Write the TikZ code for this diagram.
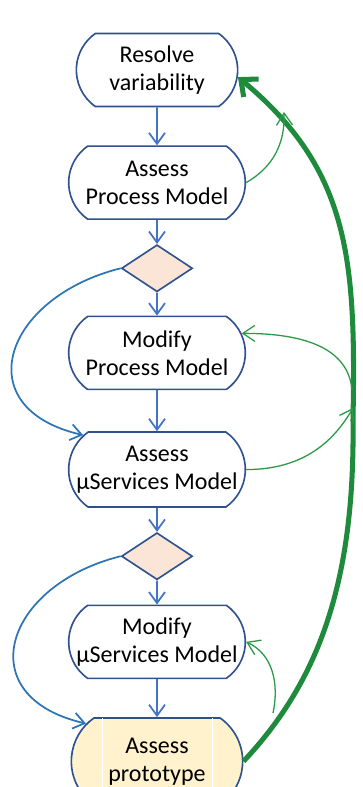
\documentclass[tikz,border=0pt]{standalone}
\usepackage{fontspec}
\setmainfont{Carlito}
\usepackage{tikz}
\usetikzlibrary{arrows.meta,positioning,shapes.misc,shapes.geometric}
\definecolor{Edge}{HTML}{2F528F}
\definecolor{Flow}{HTML}{4472C4}
\definecolor{Skip}{HTML}{2E75B6}
\definecolor{Leaf}{HTML}{2A9A48}
\definecolor{Forest}{HTML}{1E8A3C}
\definecolor{Peach}{HTML}{FBE5D6}
\definecolor{Cream}{HTML}{FFF2CC}

\begin{document}
\begin{tikzpicture}[
    act/.style={draw=Edge,line width=1.4pt,fill=white,rounded rectangle,rounded rectangle arc length=110,minimum width=55mm,minimum height=21.9mm,align=center,inner sep=1mm,font=\fontsize{20.5}{24}\selectfont},
    dec/.style={draw=Edge,line width=1.4pt,fill=Peach,diamond,minimum width=21.3mm,minimum height=14.1mm,inner sep=0pt},
    a/.style={-{Straight Barb[length=3.3mm,width=4.8mm]},line width=1.5pt,draw=Flow},
    sk/.style={-{Straight Barb[length=3.3mm,width=4.8mm]},line width=1.5pt,draw=Skip},
    fb/.style={-{Straight Barb[length=3.6mm,width=4.8mm]},line width=1.1pt,draw=Leaf},
    big/.style={-{Straight Barb[length=4mm,width=7mm]},line width=4.3pt,draw=Forest}]
    \useasboundingbox (-4.71,2.1) rectangle (6.18,-21.51);
    % main column
    \node[act,minimum width=50.4mm] (rv) {Resolve\\variability};
    \node[act,below=11.4mm of rv] (apm) {Assess\\Process Model};
    \node[dec,below=7.2mm of apm] (d1) {};
    \node[act,below=6.9mm of d1] (mpm) {Modify\\Process Model};
    \node[act,below=12.3mm of mpm,minimum height=22.5mm] (ams) {Assess\\µServices Model};
    \node[dec,below=7.2mm of ams] (d2) {};
    \node[act,below=7.2mm of d2] (mms) {Modify\\µServices Model};
    \node[act,fill=Cream,below=11.4mm of mms,minimum width=53.4mm,minimum height=26mm] (ap) {Assess\\prototype};
    \draw[white,line width=0.8pt,shorten <=0.8pt,shorten >=0.8pt] ([xshift=-16.5mm]ap.north) -- ([xshift=-16.5mm]ap.south);
    \draw[white,line width=0.8pt,shorten <=0.8pt,shorten >=0.8pt] ([xshift=16.5mm]ap.north) -- ([xshift=16.5mm]ap.south);
    \draw[a] (rv) -- (apm); \draw[a] (apm) -- (d1); \draw[a] (d1) -- (mpm); \draw[a] (mpm) -- (ams);
    \draw[a] (ams) -- (d2); \draw[a] (d2) -- (mms); \draw[a] (mms) -- (ap);
    % skip paths
    \draw[sk] (d1.west) to[out=194,in=167,looseness=1.8] (ams.155);
    \draw[sk] (d2.west) to[out=194,in=167,looseness=1.8] (ap.152);
    % feedback loop
    \coordinate (j1) at (3.81,-1.26);
    \coordinate (jout) at (5.85,-9.6);
    \coordinate (jin) at (5.88,-10.14);
    \coordinate (bend) at (5.88,-10.5);
    \coordinate (j3) at (3.48,-19.29);
    \draw[big] (ap.east) .. controls (4.89,-18.3) and (5.94,-15.3) .. (bend) .. controls (5.97,-5.7) and (5.79,-3.0) .. (rv.355);
    \draw[fb] (apm.east) to[out=30,in=-88] (j1);
    \draw[fb] (ams.east) to[out=0,in=240] (jin);
    \draw[fb] (jout) to[out=95,in=0] (mpm.13);
    \draw[fb] (j3) to[out=78,in=-25] (mms.east);
  \end{tikzpicture}
\end{document}
